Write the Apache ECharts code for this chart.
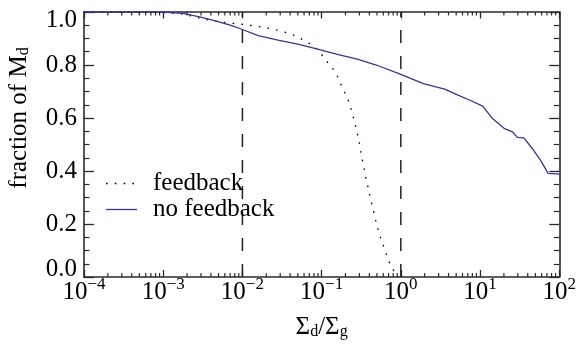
<!DOCTYPE html>
<html>
<head>
<meta charset="utf-8">
<script src="https://cdn.jsdelivr.net/npm/echarts@6/dist/echarts.min.js"></script>
<style>
  html, body { margin: 0; padding: 0; background: #fff; }
  #chart { width: 579px; height: 346px; }
</style>
</head>
<body>
<div id="chart"></div>
<script>
// Cumulative fraction of dust mass M_d above a given dust-to-gas ratio
const noFeedbackX = [1e-4, 1e-3, 0.00178, 0.00288, 0.00468, 0.0075, 0.01, 0.0158, 0.0282, 0.0501,
  0.0891, 0.158, 0.282, 0.501, 1.0, 1.92, 3.58, 5.01, 7.35, 10.8,
  14.4, 20.1, 25.6, 29.6, 35.8, 45.6, 57.9, 72.3, 100];
const noFeedbackY = [1.0, 1.0, 0.995, 0.982, 0.966, 0.948, 0.934, 0.911, 0.894, 0.879,
  0.860, 0.840, 0.822, 0.799, 0.765, 0.730, 0.709, 0.689, 0.668, 0.645,
  0.598, 0.561, 0.548, 0.527, 0.525, 0.485, 0.441, 0.391, 0.388];

const feedbackX = [1e-4, 8.91e-4, 0.00178, 0.00309, 0.00525, 0.00891, 0.015, 0.0257, 0.0413, 0.0526,
  0.0668, 0.0849, 0.098, 0.116, 0.137, 0.158, 0.176, 0.197, 0.219, 0.237,
  0.254, 0.270, 0.288, 0.303, 0.316, 0.335, 0.352, 0.368, 0.394, 0.413,
  0.443, 0.469, 0.501, 0.536, 0.590, 0.644, 0.702, 0.794, 0.891, 0.935];
const feedbackY = [1.0, 1.0, 0.992, 0.975, 0.962, 0.955, 0.947, 0.934, 0.917, 0.902,
  0.886, 0.863, 0.843, 0.814, 0.788, 0.758, 0.725, 0.695, 0.663, 0.630,
  0.598, 0.565, 0.530, 0.498, 0.462, 0.428, 0.394, 0.362, 0.328, 0.294,
  0.261, 0.227, 0.193, 0.160, 0.126, 0.093, 0.060, 0.029, 0.006, 0.0];

// Reference ratios marked with vertical dashed lines
const markerRatios = [0.01, 1];

// Axis ranges and ticks
const xRange = [1e-4, 100];
const yRange = [0, 1];
const yStep = 0.2;
const decadeStarts = [1e-4, 1e-3, 1e-2, 1e-1, 1, 10];
const minorMultipliers = [2, 3, 4, 5, 6, 7, 8, 9];

const seriesNames = ['feedback', 'no feedback'];

const SERIF = '"Liberation Serif", "DejaVu Serif", serif';
const AXIS_COLOR = '#2a2a2a';
const BLUE = '#3434a6';
const DOTTED = { color: '#000', width: 1.3, type: [1.6, 7.2] };
const SOLID = { color: BLUE, width: 1.3, type: 'solid' };

const zip = (xs, ys) => xs.map((x, i) => [x, ys[i]]);

const chart = echarts.init(document.getElementById('chart'), null, { renderer: 'canvas' });

function powerLabel(v) {
  const e = Math.round(Math.log10(v));
  return '{b|10}{s|' + (e < 0 ? '\u2212' + (-e) : String(e)) + '}';
}

const xAxisCommon = {
  type: 'log',
  logBase: 10,
  min: xRange[0],
  max: xRange[1],
  interval: 1,
  axisLine: { show: true, onZero: false, lineStyle: { color: AXIS_COLOR, width: 1.6 } },
  splitLine: { show: false },
  minorTick: { show: false },
  minorSplitLine: { show: false }
};

const yAxisCommon = {
  type: 'value',
  min: yRange[0],
  max: yRange[1],
  interval: yStep,
  axisLine: { show: true, onZero: false, lineStyle: { color: AXIS_COLOR, width: 1.6 } },
  axisTick: { show: true, inside: true, length: 10, lineStyle: { color: AXIS_COLOR, width: 1.3 } },
  minorTick: { show: true, splitNumber: 4, length: 5.5, lineStyle: { color: AXIS_COLOR, width: 1.2 } },
  splitLine: { show: false },
  minorSplitLine: { show: false }
};

const markerSeries = markerRatios.map(r => ({
  type: 'line',
  xAxisIndex: 0,
  yAxisIndex: 0,
  data: [[r, yRange[0]], [r, yRange[1]]],
  symbol: 'none',
  silent: true,
  lineStyle: { color: '#222', width: 1.5, type: [13, 13] },
  z: 1
}));

chart.setOption({
  animation: false,
  backgroundColor: '#fff',
  grid: { left: 84, right: 15, top: 12, bottom: 69, containLabel: false },
  xAxis: [
    Object.assign({}, xAxisCommon, {
      position: 'bottom',
      axisTick: { show: true, inside: true, length: 7, lineStyle: { color: AXIS_COLOR, width: 1.3 } },
      axisLabel: {
        show: true,
        margin: 3,
        showMinLabel: true,
        showMaxLabel: true,
        formatter: powerLabel,
        rich: {
          b: { fontFamily: SERIF, fontSize: 25, lineHeight: 25, color: '#000', verticalAlign: 'bottom' },
          s: { fontFamily: SERIF, fontSize: 17, lineHeight: 17, color: '#000', verticalAlign: 'bottom', padding: [0, 0, 12, 0] }
        }
      },
      name: '{m|\u03A3}{u|d}{m|/\u03A3}{u|g}',
      nameLocation: 'middle',
      nameGap: 38,
      nameTextStyle: {
        rich: {
          m: { fontFamily: SERIF, fontSize: 25, lineHeight: 25, color: '#000', verticalAlign: 'top' },
          u: { fontFamily: SERIF, fontSize: 16, lineHeight: 16, color: '#000', verticalAlign: 'bottom', padding: [11, 0, 0, 0] }
        }
      }
    }),
    Object.assign({}, xAxisCommon, {
      position: 'top',
      axisTick: { show: true, inside: true, length: 6.5, lineStyle: { color: AXIS_COLOR, width: 1.3 } },
      axisLabel: { show: false }
    })
  ],
  yAxis: [
    Object.assign({}, yAxisCommon, {
      position: 'left',
      axisLabel: {
        show: true,
        margin: 7,
        fontFamily: SERIF,
        fontSize: 25,
        lineHeight: 16,
        color: '#000',
        formatter: v => v.toFixed(1),
        verticalAlignMinLabel: 'bottom',
        verticalAlignMaxLabel: 'top'
      }
    }),
    Object.assign({}, yAxisCommon, {
      position: 'right',
      axisLabel: { show: false }
    })
  ],
  series: [
    {
      name: seriesNames[0],
      type: 'line',
      xAxisIndex: 0,
      yAxisIndex: 0,
      data: zip(feedbackX, feedbackY),
      symbol: 'none',
      lineStyle: DOTTED,
      z: 3
    },
    {
      name: seriesNames[1],
      type: 'line',
      xAxisIndex: 0,
      yAxisIndex: 0,
      data: zip(noFeedbackX, noFeedbackY),
      symbol: 'none',
      lineStyle: SOLID,
      z: 4
    }
  ].concat(markerSeries)
});

// Logarithmic minor ticks (2..9 in each decade) on the bottom and top frame,
// the key for the two runs, and the rotated y-axis title.
const yBottom = chart.convertToPixel({ yAxisIndex: 0 }, yRange[0]);
const yTop = chart.convertToPixel({ yAxisIndex: 0 }, yRange[1]);
const extras = [];
decadeStarts.forEach(d => {
  minorMultipliers.forEach(m => {
    const x = chart.convertToPixel({ xAxisIndex: 0 }, d * m);
    extras.push({
      type: 'line', silent: true, z: 50,
      shape: { x1: x, y1: yBottom, x2: x, y2: yBottom - 4 },
      style: { stroke: AXIS_COLOR, lineWidth: 1.2 }
    });
    extras.push({
      type: 'line', silent: true, z: 50,
      shape: { x1: x, y1: yTop, x2: x, y2: yTop + 3.5 },
      style: { stroke: AXIS_COLOR, lineWidth: 1.2 }
    });
  });
});

// Key: sample line + label per run
const keyStyles = [DOTTED, SOLID];
const keyRows = [183.5, 209.5];
seriesNames.forEach((name, i) => {
  const ls = keyStyles[i];
  extras.push({
    type: 'line', silent: true, z: 60,
    shape: { x1: 106, y1: keyRows[i], x2: 137, y2: keyRows[i] },
    style: { stroke: ls.color, lineWidth: ls.width, lineDash: Array.isArray(ls.type) ? ls.type : null }
  });
  extras.push({
    type: 'text', silent: true, z: 60,
    x: 153, y: keyRows[i],
    style: { text: name, fontFamily: SERIF, fontSize: 25, fill: '#000', align: 'left', verticalAlign: 'middle' }
  });
});

extras.push({
  type: 'text',
  x: 19,
  y: 118,
  rotation: Math.PI / 2,
  silent: true,
  style: {
    text: '{m|fraction of M}{u|d}',
    align: 'center',
    verticalAlign: 'middle',
    rich: {
      m: { fontFamily: SERIF, fontSize: 25, lineHeight: 25, fill: '#000', verticalAlign: 'top' },
      u: { fontFamily: SERIF, fontSize: 16, lineHeight: 16, fill: '#000', verticalAlign: 'bottom', padding: [11, 0, 0, 0] }
    }
  }
});
chart.setOption({ graphic: extras });
</script>
</body>
</html>
